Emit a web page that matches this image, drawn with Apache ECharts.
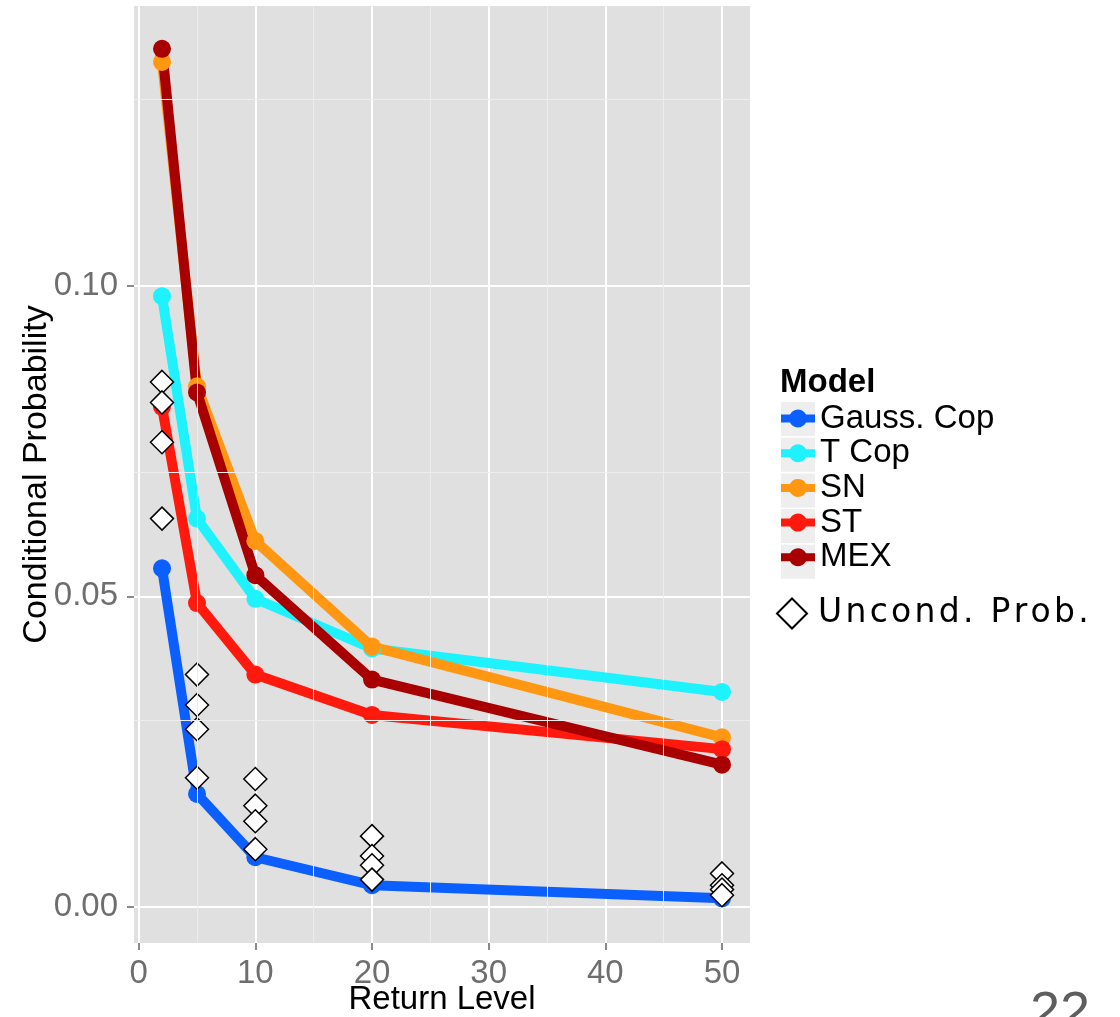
<!DOCTYPE html>
<html>
<head>
<meta charset="utf-8">
<script src="https://cdn.jsdelivr.net/npm/echarts@6/dist/echarts.min.js"></script>
<style>
html,body{margin:0;padding:0;background:#fff;}
#chart{width:1120px;height:1017px;}
</style>
</head>
<body>
<div id="chart"></div>
<script>
// ---- data ----
const returnLevels = [2, 5, 10, 20, 50];
const gaussCop = [0.0545, 0.0182, 0.0080, 0.0035, 0.0014];
const tCop     = [0.0983, 0.0625, 0.0496, 0.0416, 0.0346];
const snModel  = [0.1360, 0.0838, 0.0589, 0.0419, 0.0273];
const stModel  = [0.0805, 0.0489, 0.0374, 0.0309, 0.0254];
const mexModel = [0.1381, 0.0828, 0.0534, 0.0366, 0.0229];
const uncondAt2  = [0.0845, 0.0812, 0.0748, 0.0625];
const uncondAt5  = [0.0374, 0.0325, 0.0286, 0.0208];
const uncondAt10 = [0.0206, 0.0163, 0.0138, 0.0093];
const uncondAt20 = [0.0114, 0.0082, 0.0067, 0.0044];
const uncondAt50 = [0.0054, 0.0035, 0.0028, 0.0019];
const xTicks = [0, 10, 20, 30, 40, 50];
const xMinor = [5, 15, 25, 35, 45];
const yTicks = [0, 0.05, 0.10];
const yMinor = [0.025, 0.075, 0.125];
const modelNames = ['Gauss. Cop', 'T Cop', 'SN', 'ST', 'MEX'];
const modelColors = ['#0B5FFF', '#1EF2FF', '#FF9712', '#FF1A0D', '#A80000'];
const uncondName = 'U\u200An\u200Ac\u200Ao\u200An\u200Ad\u200A. \u2009P\u200Ar\u200Ao\u200Ab\u200A.';

const FONT = 'Liberation Sans';
const modelValues = [gaussCop, tCop, snModel, stModel, mexModel];
const uncondGroups = [uncondAt2, uncondAt5, uncondAt10, uncondAt20, uncondAt50];
const uncondPoints = [];
uncondGroups.forEach((g, i) => g.forEach(v => uncondPoints.push([returnLevels[i], v])));

const chart = echarts.init(document.getElementById('chart'), null, {renderer: 'canvas', width: 1120, height: 1017});

const series = [{
  type: 'line', name: '_grid', data: [], z: 1, silent: true, symbol: 'none',
  markLine: {
    silent: true, symbol: ['none', 'none'], animation: false,
    label: {show: false},
    lineStyle: {color: '#EDEDED', width: 1, type: 'solid'},
    emphasis: {disabled: true},
    data: xMinor.map(v => ({xAxis: v})).concat(yMinor.map(v => ({yAxis: v})))
  }
}];
modelNames.forEach((n, i) => {
  series.push({
    type: 'line', name: n,
    data: returnLevels.map((x, j) => [x, modelValues[i][j]]),
    symbol: 'circle', symbolSize: 18, showSymbol: true,
    lineStyle: {width: 10, color: modelColors[i]},
    itemStyle: {color: modelColors[i]},
    emphasis: {disabled: true},
    z: 2
  });
});
series.push({
  type: 'scatter', name: uncondName, data: uncondPoints,
  symbol: 'diamond', symbolSize: 23,
  itemStyle: {color: '#FFFFFF', borderColor: '#000000', borderWidth: 1.5, opacity: 1},
  emphasis: {disabled: true}, z: 3
});

const keyBoxes = modelNames.map((n, i) => ({
  type: 'rect', left: 781, top: 402 + i * 35.7, z: 1,
  shape: {width: 34, height: 34}, style: {fill: '#EEEEEE'}
}));
keyBoxes.push({
  type: 'text', left: 1030, top: 987, z: 1,
  style: {text: '22', font: 'normal 400 54px "Liberation Sans"', fill: '#5E5E5E'}
});

chart.setOption({
  animation: false,
  textStyle: {fontFamily: FONT},
  title: [
    {text: 'Model', left: 780, top: 366, padding: 0,
     textStyle: {fontFamily: FONT, fontSize: 33, fontWeight: 'bold', color: '#000'}}
  ],
  graphic: keyBoxes,
  grid: {left: 134, top: 6, width: 616, height: 937, show: true,
         backgroundColor: '#E0E0E0', borderWidth: 0, containLabel: false,
         outerBoundsMode: 'none'},
  legend: [
    {data: modelNames, orient: 'vertical', left: 781, top: 402, padding: 0,
     icon: 'path://M0,5 L8.94,5 A9,9 0 0 1 25.06,5 L34,5 L34,13 L25.06,13 A9,9 0 0 1 8.94,13 L0,13 Z',
     itemWidth: 34, itemHeight: 34, itemGap: 1.7, z: 5,
     itemStyle: {borderWidth: 0},
     textStyle: {fontFamily: FONT, fontSize: 33, color: '#000'},
     selectedMode: false},
    {data: [{name: uncondName, icon: 'path://M15,0 L30,15 L15,30 L0,15 Z'}],
     orient: 'vertical', left: 776, top: 597, padding: 0,
     itemWidth: 42, itemHeight: 30, z: 5,
     textStyle: {fontFamily: 'DejaVu Sans', fontSize: 33, color: '#000'},
     selectedMode: false}
  ],
  xAxis: {
    type: 'value', min: -0.4, max: 52.4,
    name: 'Return Level', nameLocation: 'middle', nameGap: 40, nameMoveOverlap: false,
    nameTextStyle: {fontFamily: FONT, fontSize: 33, color: '#000', verticalAlign: 'top'},
    axisLine: {show: false, onZero: false},
    axisTick: {show: true, length: 7, customValues: xTicks, lineStyle: {color: '#666', width: 1.5}},
    axisLabel: {customValues: xTicks, margin: 14, fontSize: 33, color: '#6E6E6E', fontFamily: FONT},
    splitLine: {show: true, lineStyle: {color: '#FFFFFF', width: 2}}
  },
  yAxis: {
    type: 'value', min: -0.0058, max: 0.145,
    name: 'Conditional Probability', nameLocation: 'middle', nameGap: 80, nameRotate: 90,
    nameMoveOverlap: false,
    nameTextStyle: {fontFamily: FONT, fontSize: 34, color: '#000'},
    axisLine: {show: false, onZero: false},
    axisTick: {show: true, length: 7, customValues: yTicks, lineStyle: {color: '#666', width: 1.5}},
    axisLabel: {customValues: yTicks, margin: 16, fontSize: 33, color: '#6E6E6E', fontFamily: FONT,
                formatter: v => v.toFixed(2)},
    splitLine: {show: true, lineStyle: {color: '#FFFFFF', width: 2}}
  },
  series: series
});
</script>
</body>
</html>
